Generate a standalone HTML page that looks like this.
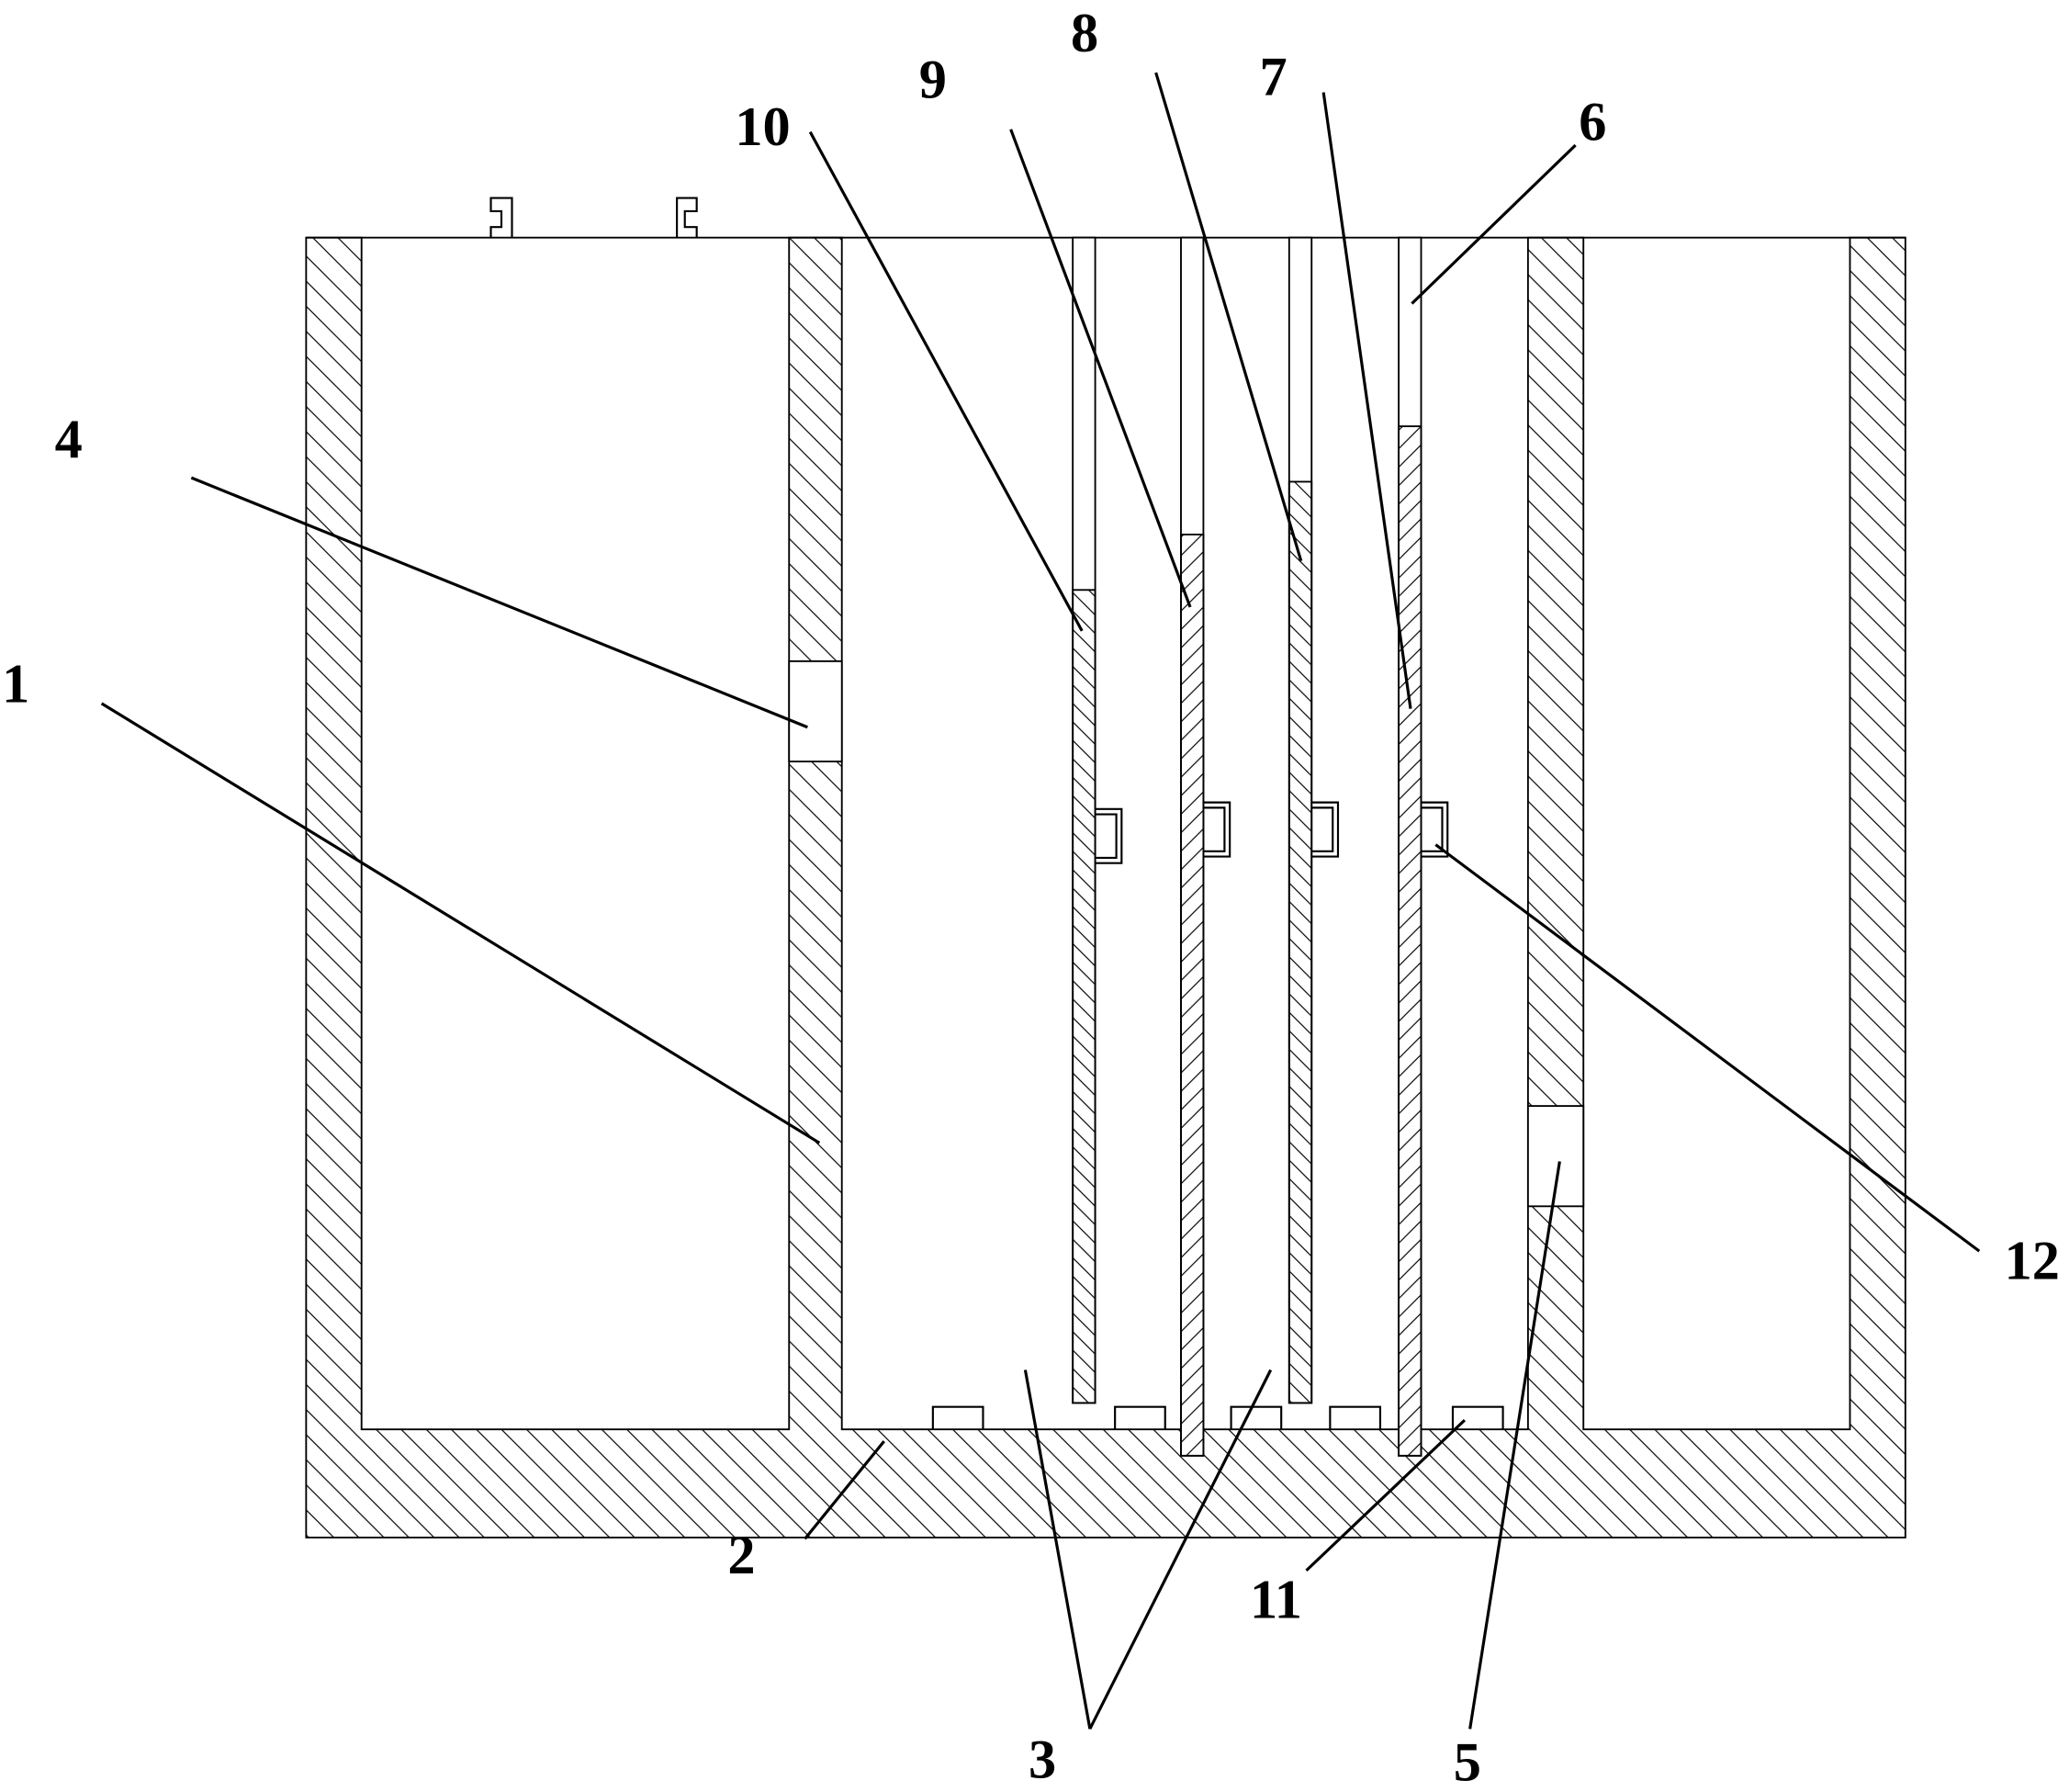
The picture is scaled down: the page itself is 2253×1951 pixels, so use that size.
<!DOCTYPE html>
<html><head><meta charset="utf-8"><style>html,body{margin:0;padding:0;background:#fff}svg{display:block}</style></head><body>
<svg width="2253" height="1951" viewBox="0 0 1568 1357.8" preserveAspectRatio="none" xmlns="http://www.w3.org/2000/svg">
<defs>
<pattern id="hb" patternUnits="userSpaceOnUse" width="19" height="19"><path d="M-4,-4 L23,23 M-4,15 L4,23 M15,-4 L23,4" stroke="#000" stroke-width="0.8"/></pattern>
<pattern id="hf" patternUnits="userSpaceOnUse" width="14" height="14"><path d="M-4,18 L18,-4 M-4,4 L4,-4 M10,18 L18,10" stroke="#000" stroke-width="0.8"/></pattern>
<pattern id="hp" patternUnits="userSpaceOnUse" width="14" height="14"><path d="M-4,-4 L18,18 M-4,10 L4,18 M10,-4 L18,4" stroke="#000" stroke-width="0.8"/></pattern>
</defs>
<g fill="none" stroke="#000" stroke-width="1.3">
<path d="M232,180 H274 V1083 H598 V180 H638 V1083 H1158 V180 H1200 V1083 H1402 V180 H1444 V1165 H232 Z" fill="url(#hb)"/>
<rect x="598" y="501" width="40" height="76" fill="#fff"/>
<rect x="1158" y="838" width="42" height="76" fill="#fff"/>
<line x1="232" y1="180" x2="1444" y2="180"/>
<rect x="813" y="180" width="17" height="883" fill="#fff"/><rect x="813" y="447" width="17" height="616" fill="url(#hp)"/>
<rect x="895" y="180" width="17" height="923" fill="#fff"/><rect x="895" y="405" width="17" height="698" fill="url(#hf)"/>
<rect x="977" y="180" width="17" height="883" fill="#fff"/><rect x="977" y="365" width="17" height="698" fill="url(#hp)"/>
<rect x="1060" y="180" width="17" height="923" fill="#fff"/><rect x="1060" y="323" width="17" height="780" fill="url(#hf)"/>
<path d="M830,613 H850 V654 H830 M830,617 H846 V650 H830" stroke-width="1.5"/>
<path d="M912,608 H932 V649 H912 M912,612 H928 V645 H912" stroke-width="1.5"/>
<path d="M994,608 H1014 V649 H994 M994,612 H1010 V645 H994" stroke-width="1.5"/>
<path d="M1077,608 H1097 V649 H1077 M1077,612 H1093 V645 H1077" stroke-width="1.5"/>
<path d="M707,1083 V1066 H745 V1083 M845,1083 V1066 H883 V1083 M933,1083 V1066 H971 V1083 M1008,1083 V1066 H1046 V1083 M1101,1083 V1066 H1139 V1083" stroke-width="1.5"/>
<path d="M388,180 V150 H372 V160 H380 V172 H372 V180" stroke-width="1.5"/>
<path d="M513,180 V150 H528 V160 H519 V172 H528 V180" stroke-width="1.5"/>
</g>
<g stroke="#000" stroke-width="2.2" fill="none">
<line x1="614" y1="100" x2="820" y2="478"/>
<line x1="766" y1="98" x2="902" y2="460"/>
<line x1="876" y1="55" x2="986" y2="425"/>
<line x1="1003" y1="70" x2="1069" y2="537"/>
<line x1="1194" y1="110" x2="1070" y2="230"/>
<line x1="145" y1="362" x2="612" y2="551"/>
<line x1="77" y1="533" x2="621" y2="866"/>
<line x1="1500" y1="948" x2="1088" y2="640"/>
<line x1="610" y1="1166" x2="670" y2="1092"/>
<line x1="826" y1="1310" x2="777" y2="1038"/>
<line x1="826" y1="1310" x2="963" y2="1038"/>
<line x1="990" y1="1190" x2="1110" y2="1076"/>
<line x1="1114" y1="1310" x2="1182" y2="880"/>
</g>
<g font-family="Liberation Serif, serif" font-size="42" font-weight="bold" fill="#000" text-anchor="middle">
<text x="578" y="110">10</text>
<text x="707" y="74">9</text>
<text x="822" y="39">8</text>
<text x="965" y="72">7</text>
<text x="1207" y="106">6</text>
<text x="52" y="347">4</text>
<text x="12" y="532">1</text>
<text x="1540" y="969">12</text>
<text x="562" y="1192">2</text>
<text x="790" y="1347">3</text>
<text x="967" y="1226">11</text>
<text x="1112" y="1349">5</text>
</g>
</svg>
</body></html>
